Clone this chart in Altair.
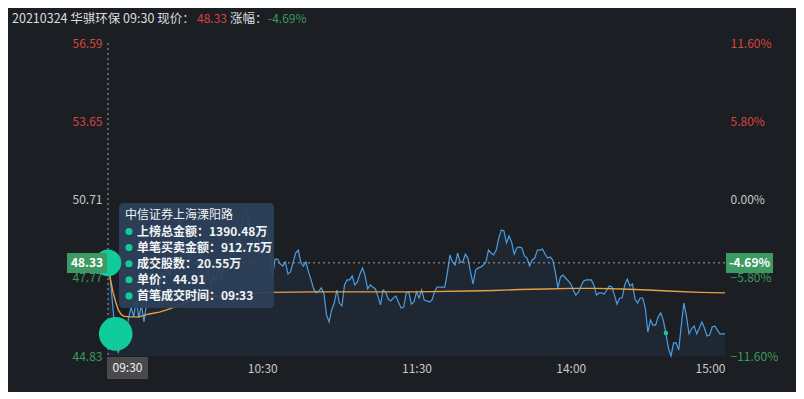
import altair as alt
import pandas as pd

FONT = "Noto Sans CJK SC"

# ---- data ----
price = [
    48.33, 47.61, 46.56, 45.43, 44.94, 45.43, 45.88, 45.62, 46.26, 46.67,
    46.30, 46.93, 46.26, 46.75, 46.11, 46.82, 47.01, 47.31, 46.93, 47.50,
    47.39, 47.99, 47.61, 48.14, 47.84, 48.51, 48.21, 49.38, 50.24, 49.26,
    48.63, 48.89, 48.36, 49.00, 48.51, 48.14, 48.63, 47.99, 47.69, 48.06,
    47.50, 47.87, 47.61, 48.25, 47.76, 48.06, 48.51, 48.36, 48.89, 48.63,
    49.19, 49.00, 49.75, 50.24, 50.32, 49.75, 49.19, 48.81, 49.49, 49.00,
    48.63, 49.64, 49.56, 49.00, 47.87, 48.47, 48.47, 48.29, 48.21, 48.36,
    47.91, 47.99, 48.36, 48.70, 48.81, 48.36, 48.21, 48.36, 47.99, 47.69,
    47.35, 47.20, 47.27, 47.39, 47.16, 46.37, 46.11, 46.56, 46.82, 47.31,
    46.82, 46.71, 47.50, 47.69, 47.69, 47.84, 47.50, 47.61, 47.91, 48.14,
    47.84, 47.35, 47.50, 47.42, 47.35, 47.08, 46.75, 47.31, 47.24, 46.97,
    46.90, 47.01, 47.08, 46.86, 46.63, 46.67, 47.20, 47.24, 46.78, 46.86,
    47.24, 47.01, 47.31, 46.93, 46.90, 46.86, 46.93, 47.24, 47.42, 47.42,
    47.42, 47.42, 47.95, 48.63, 48.36, 48.25, 48.70, 48.36, 48.36, 48.66,
    48.51, 47.99, 47.54, 48.06, 48.14, 48.17, 48.25, 48.36, 48.81, 48.70,
    48.63, 48.81, 49.26, 49.56, 49.53, 49.08, 49.34, 49.11, 48.66, 48.89,
    48.93, 48.89, 48.59, 48.51, 48.21, 48.44, 48.51, 48.81, 48.81, 48.85,
    48.66, 48.51, 48.55, 48.44, 47.99, 47.39, 47.80, 47.87, 47.76, 47.65,
    47.54, 47.31, 47.12, 47.24, 47.46, 47.65, 47.69, 47.69, 47.69, 47.50,
    47.12, 47.20, 47.20, 47.16, 47.31, 47.46, 47.42, 47.12, 46.78, 47.01,
    47.01, 47.50, 47.72, 47.46, 47.54, 46.97, 46.82, 47.01, 47.01, 46.63,
    45.73, 46.18, 45.99, 45.99, 46.30, 46.45, 46.18, 45.69, 45.13, 44.83,
    45.32, 45.32, 45.06, 45.99, 46.82, 46.33, 45.66, 45.85, 45.96, 45.66,
    45.88, 46.11, 45.88, 45.58, 45.62, 45.92, 45.96, 45.81, 45.66, 45.66,
    45.66,
]
minutes = list(range(len(price)))

avg_minutes = [0, 1, 2, 3, 4, 5, 6, 8, 12, 16, 20, 24, 28, 32, 36, 40, 48, 56, 64,
               80, 100, 120, 140, 150, 160, 170, 180, 190, 200, 210, 220, 230, 240]
avg_values = [48.33, 47.69, 47.20, 46.86, 46.56, 46.41, 46.33, 46.30, 46.30, 46.41,
              46.48, 46.60, 46.75, 46.90, 47.01, 47.05, 47.12, 47.20, 47.22, 47.24,
              47.24, 47.24, 47.27, 47.29, 47.33, 47.35, 47.37, 47.37, 47.35, 47.31,
              47.26, 47.22, 47.20]

price_ticks = [44.83, 47.77, 50.71, 53.65, 56.59]
pct_ticks = [-11.60, -5.80, 0.00, 5.80, 11.60]
time_ticks = [60, 120, 180, 240]
time_labels = ["10:30", "11:30", "14:00", "15:00"]

cursor_minute = 0
cursor_price = 48.33
cursor_pct = "-4.69%"
cursor_time = "09:30"

deal_minute = 3
deal_price = 45.66
mark_minute = 217
mark_price = 45.69

title_parts = ["20210324 华骐环保 09:30 现价：", "48.33", "涨幅：", "-4.69%"]
tip_title = "中信证券上海溧阳路"
tip_items = ["上榜总金额：1390.48万", "单笔买卖金额：912.75万", "成交股数：20.55万",
             "单价：44.91", "首笔成交时间：09:33"]

# ---- styling ----
BG = "#1b1e23"
RED = "#d9443a"
GREEN = "#3a9a5c"
GREY = "#c8c8c8"
MINT = "#10cc9a"

df = pd.DataFrame({"m": minutes, "price": price})
avg_df = pd.DataFrame({"m": avg_minutes, "avg": avg_values})

xs = alt.Scale(domain=[0, 240], nice=False, zero=False)
ys = alt.Scale(domain=[price_ticks[0], price_ticks[-1]], nice=False, zero=False)

time_expr = " : ".join(f"datum.value == {v} ? '{l}'" for v, l in zip(time_ticks, time_labels)) + " : ''"

x_axis = alt.Axis(values=time_ticks, labelExpr=time_expr, labelFlush=True, domain=False,
                  ticks=False, grid=False, labelColor=GREY, labelFontSize=12,
                  labelFont=FONT, labelPadding=7, title=None)
y_axis = alt.Axis(values=price_ticks, format=".2f", domain=False, ticks=False, grid=False,
                  labelFontSize=12, labelFont=FONT, labelPadding=6, title=None,
                  labelColor={"expr": f"datum.value > 50.72 ? '{RED}' : (datum.value < 50.70 ? '{GREEN}' : '{GREY}')"})

one = alt.Data(values=[{"k": 1}])

area = alt.Chart(df).mark_area(color="#1f2733", opacity=1).encode(
    x=alt.X("m:Q", scale=xs, axis=x_axis),
    y=alt.Y("price:Q", scale=ys, axis=y_axis),
    y2=alt.datum(price_ticks[0]),
)
line = alt.Chart(df).mark_line(color="#4a9de0", strokeWidth=1.2).encode(
    x=alt.X("m:Q", scale=xs), y=alt.Y("price:Q", scale=ys))
avg_line = alt.Chart(avg_df).mark_line(color="#e5a043", strokeWidth=1.4).encode(
    x=alt.X("m:Q", scale=xs), y=alt.Y("avg:Q", scale=ys))

vrule = alt.Chart(one).mark_rule(color="#a0a4aa", strokeDash=[2, 3], strokeWidth=1).encode(
    x=alt.datum(cursor_minute))
hrule = alt.Chart(one).mark_rule(color="#a0a4aa", strokeDash=[2, 3], strokeWidth=1).encode(
    y=alt.datum(cursor_price))

hover_dot = alt.Chart(one).mark_circle(color=MINT, opacity=1, size=707).encode(
    x=alt.datum(cursor_minute), y=alt.datum(cursor_price))
deal_dot = alt.Chart(one).mark_circle(color=MINT, opacity=1, size=1134).encode(
    x=alt.datum(deal_minute), y=alt.datum(deal_price))
mark_dot = alt.Chart(one).mark_circle(color=MINT, opacity=1, size=20).encode(
    x=alt.datum(mark_minute), y=alt.datum(mark_price))

# price / pct cursor boxes
lbox = alt.Chart(one).mark_rect(color="#3d9a62").encode(
    x=alt.value(-41), x2=alt.value(-1), y=alt.value(210), y2=alt.value(230))
ltext = alt.Chart(one).mark_text(text=f"{cursor_price:.2f}", color="white", font=FONT,
                                 fontSize=12, fontWeight="bold", align="center", baseline="middle").encode(
    x=alt.value(-21), y=alt.datum(cursor_price))
rbox = alt.Chart(one).mark_rect(color="#3d9a62").encode(
    x=alt.value(618), x2=alt.value(665), y=alt.value(210), y2=alt.value(230))
rtext = alt.Chart(one).mark_text(text=cursor_pct, color="white", font=FONT,
                                 fontSize=12, fontWeight="bold", align="center", baseline="middle").encode(
    x=alt.value(641.5), y=alt.datum(cursor_price))
tbox = alt.Chart(one).mark_rect(color="#4a4a4c").encode(
    x=alt.value(-1), x2=alt.value(40), y=alt.value(314), y2=alt.value(336))
ttext = alt.Chart(one).mark_text(text=cursor_time, color="#f0f0f0", font=FONT,
                                 fontSize=12, align="center", baseline="middle").encode(
    x=alt.value(19.5), y=alt.value(325))

# tooltip panel
tip_box = alt.Chart(one).mark_rect(color="#2c4159", opacity=0.93, cornerRadius=4).encode(
    x=alt.value(11), x2=alt.value(166), y=alt.value(160), y2=alt.value(265))
tip_layers = [alt.Chart(one).mark_text(text=tip_title, color="#eef2f6", font=FONT, fontSize=12,
                                       align="left", baseline="middle").encode(
    x=alt.value(17), y=alt.value(172))]
for i, item in enumerate(tip_items):
    yy = 188.5 + i * 16.1
    tip_layers.append(alt.Chart(one).mark_circle(color=MINT, opacity=1, size=50).encode(
        x=alt.value(21), y=alt.value(yy)))
    tip_layers.append(alt.Chart(one).mark_text(text=item, color="#f2f5f8", font=FONT, fontSize=12,
                                               fontWeight="bold", align="left", baseline="middle").encode(
        x=alt.value(29), y=alt.value(yy)))

# header
title_x = [-96, 89, 122, 160]
title_c = ["#dcdcdc", RED, "#dcdcdc", GREEN]
title_s = [12.5, 12, 12.5, 12]
title_layers = [
    alt.Chart(one).mark_text(text=t, color=c, font=FONT, fontSize=s, align="left",
                             baseline="middle").encode(x=alt.value(x), y=alt.value(-24))
    for t, x, c, s in zip(title_parts, title_x, title_c, title_s)
]

main = alt.layer(area, line, avg_line, vrule, hrule, deal_dot, mark_dot, tip_box,
                 *tip_layers, hover_dot, lbox, ltext, rbox, rtext, tbox, ttext, *title_layers)

pct_axis = alt.Axis(orient="right", values=pct_ticks, domain=False, ticks=False, grid=False,
                    labelExpr="format(datum.value, '.2f') + '%'", labelFontSize=12,
                    labelFont=FONT, labelPadding=5, title=None,
                    labelColor={"expr": f"datum.value > 0.01 ? '{RED}' : (datum.value < -0.01 ? '{GREEN}' : '{GREY}')"})
pct_layer = alt.Chart(alt.Data(values=[{"p": pct_ticks[0]}, {"p": pct_ticks[-1]}])).mark_point(
    opacity=0).encode(
    y=alt.Y("p:Q", scale=alt.Scale(domain=[pct_ticks[0], pct_ticks[-1]], nice=False, zero=False),
            axis=pct_axis))

chart = alt.layer(main, pct_layer).resolve_scale(y="independent").properties(
    width=617, height=313,
    autosize=alt.AutoSizeParams(type="none"),
    padding={"left": 100, "top": 35, "right": 71, "bottom": 36},
).configure(background=BG, font=FONT).configure_view(strokeWidth=0)

chart.save("out.html", embed_options={"renderer": "svg", "actions": False})
